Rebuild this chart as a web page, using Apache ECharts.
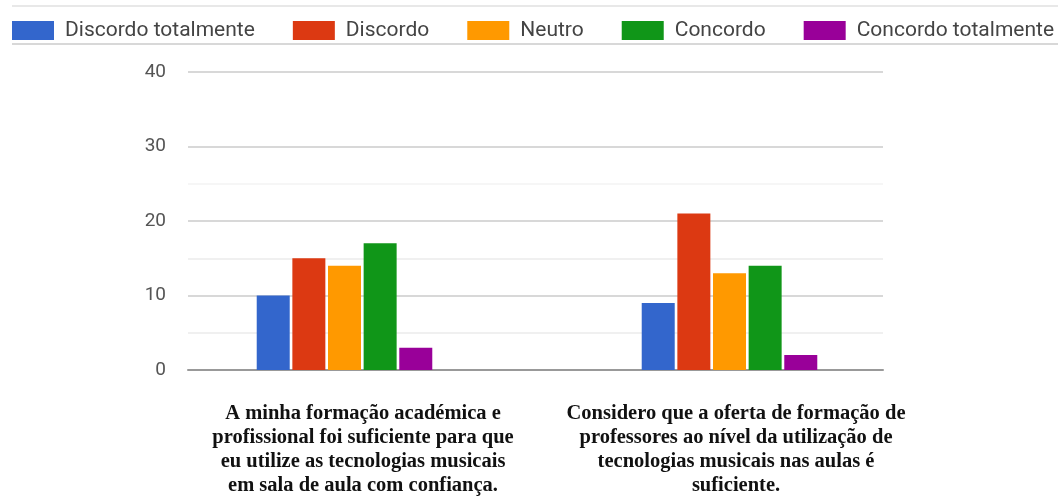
<!DOCTYPE html>
<html>
<head>
<meta charset="utf-8">
<script src="https://cdn.jsdelivr.net/npm/echarts@6/dist/echarts.min.js"></script>
<style>html,body{margin:0;padding:0;background:#fff;}#c{width:1058px;height:497px;}</style>
</head>
<body>
<div id="c"></div>
<script>
const categories = [
  "A minha formação académica e\nprofissional foi suficiente para que\neu utilize as tecnologias musicais\nem sala de aula com confiança.",
  "Considero que a oferta de formação de\nprofessores ao nível da utilização de\ntecnologias musicais nas aulas é\nsuficiente."
];
const seriesNames = ["Discordo totalmente", "Discordo", "Neutro", "Concordo", "Concordo totalmente"];
const discordoTotalmente = [10, 9];
const discordo = [15, 21];
const neutro = [14, 13];
const concordo = [17, 14];
const concordoTotalmente = [3, 2];
const yTicks = [0, 10, 20, 30, 40];

const values = [discordoTotalmente, discordo, neutro, concordo, concordoTotalmente];
const colors = ["#3366cc", "#dc3912", "#ff9900", "#109618", "#990099"];
const labelShift = [37, 13];

const chart = echarts.init(document.getElementById('c'), null, {renderer: 'canvas'});
const option = {
  animation: false,
  color: colors,
  legend: {
    data: seriesNames,
    left: 12, top: 20, padding: 0,
    itemWidth: 42, itemHeight: 19, itemGap: 38,
    icon: 'rect',
    textStyle: {fontFamily: 'Roboto', fontSize: 21, color: '#444', padding: [0, 0, 0, 6]}
  },
  graphic: [
    {type: 'line', shape: {x1: 12, y1: 6, x2: 1058, y2: 6}, style: {stroke: '#e8e8e8', lineWidth: 2}},
    {type: 'line', shape: {x1: 12, y1: 44, x2: 1058, y2: 44}, style: {stroke: '#d8d8d8', lineWidth: 2}}
  ],
  grid: [
    {left: 152, right: 136, top: 72, bottom: 127, containLabel: false, outerBoundsMode: 'none'},
    {left: 188, right: 175, top: 72, bottom: 127, containLabel: false, outerBoundsMode: 'none'}
  ],
  xAxis: [
    {
      type: 'category', gridIndex: 0,
      data: categories.map((c, i) => ({value: c, textStyle: {padding: [0, 0, 0, labelShift[i]]}})),
      axisLine: {show: false}, axisTick: {show: false},
      axisLabel: {
        interval: 0, margin: 32,
        fontFamily: 'Liberation Serif', fontWeight: 'bold', fontSize: 20.5, lineHeight: 24,
        color: '#111', align: 'center'
      }
    },
    {
      type: 'value', gridIndex: 1, min: 0, max: 1,
      axisLine: {show: true, onZero: true, lineStyle: {color: '#999', width: 2}},
      axisTick: {show: false}, axisLabel: {show: false}, splitLine: {show: false}
    }
  ],
  yAxis: [
    {type: 'value', gridIndex: 0, min: 0, max: 40, interval: 5, show: false},
    {
      type: 'value', gridIndex: 1, min: 0, max: 40, interval: 5,
      axisLine: {show: false}, axisTick: {show: false},
      axisLabel: {
        margin: 22, fontFamily: 'Roboto', fontSize: 19, color: '#555',
        formatter: v => (yTicks.indexOf(v) >= 0 ? String(v) : '')
      },
      splitLine: {
        show: true,
        lineStyle: {
          width: 2,
          color: ['#d8d8d8', '#f0f0f0', '#d8d8d8', '#f0f0f0', '#d8d8d8', '#f6f6f6', '#d8d8d8', 'rgba(0,0,0,0)', '#d8d8d8']
        }
      }
    }
  ],
  series: seriesNames.map((n, i) => ({
    name: n, type: 'bar', xAxisIndex: 0, yAxisIndex: 0,
    data: values[i], barWidth: 33, barGap: '8%',
    itemStyle: {color: colors[i]}
  }))
};
chart.setOption(option);
</script>
</body>
</html>
